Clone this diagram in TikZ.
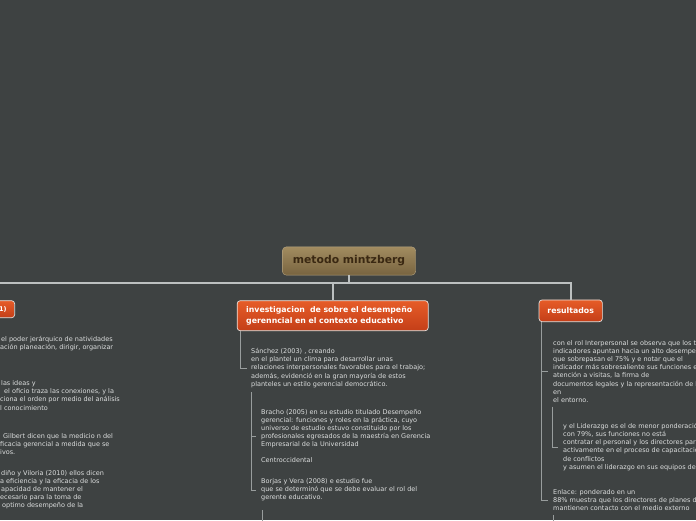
\documentclass[tikz,border=0pt]{standalone}
\usepackage{fontspec}
\setmainfont{DejaVu Sans}
\definecolor{bg}{HTML}{3E4242}
\definecolor{txt}{HTML}{DCDEDE}
\definecolor{branch}{HTML}{989D9D}
\definecolor{busc}{HTML}{BCC0C0}
\definecolor{orangeT}{RGB}{230,92,40}
\definecolor{orangeB}{RGB}{196,62,24}
\definecolor{rootT}{RGB}{162,140,96}
\definecolor{rootB}{RGB}{120,100,64}
\definecolor{rootTxt}{RGB}{58,40,18}
\definecolor{topicBorder}{RGB}{232,226,222}
\tikzset{
  body/.style={inner sep=0pt, anchor=west, align=left, text=txt, font=\fontsize{6.5}{8.1}\selectfont},
  topic/.style={rounded corners=3pt, draw=topicBorder, line width=0.7pt, top color=orangeT, bottom color=orangeB, text=white, font=\fontsize{7.8}{11}\selectfont\bfseries},
  rootbox/.style={rounded corners=4pt, draw=rootT!80!white, line width=0.4pt, top color=rootT, bottom color=rootB, text=rootTxt, font=\fontsize{10.8}{13}\selectfont\bfseries},
  branchline/.style={draw=branch, line width=0.9pt},
  busline/.style={draw=busc, line width=1.6pt},
}
\begin{document}
\begin{tikzpicture}[x=1pt,y=-1pt]
\fill[bg] (0,0) rectangle (696,520);
\useasboundingbox (0,0) rectangle (696,520);
\clip (0,0) rectangle (696,520);

% main topics
\node[rootbox, minimum width=133.4pt, minimum height=28.3pt, inner sep=0pt] (root) at (349,261) {metodo mintzberg};
\node[topic, text width=173pt, inner xsep=9pt, minimum height=30pt, align=left] (inv) at (332.7,315.7) {investigacion\ \ de sobre el desempeño\\gerenncial en el contexto educativo};
\node[topic, minimum width=63.3pt, minimum height=21.7pt, inner xsep=0pt] (res) at (570.7,310.8) {resultados};
\node[topic, inner xsep=8pt, minimum height=17pt, anchor=east, font=\fontsize{6.5}{8}\selectfont\bfseries] (lft) at (15,309.2) {1)};

% bus
\coordinate (bus) at (349,283);
\coordinate (busL) at (-5,283);
\draw[busline] (root.south) -- (bus);
\draw[busline] (busL) -- (bus) -| (res.north);
\draw[busline] (bus) -| (inv.north);

% middle texts
\node[body] (sanchez) at (251,368) {Sánchez (2003) , creando\\en el plantel un clima para desarrollar unas\\relaciones interpersonales favorables para el trabajo;\\además, evidenció en la gran mayoría de estos\\planteles un estilo gerencial democrático.};
\node[body] (bracho) at (261,436) {Bracho (2005) en su estudio titulado Desempeño\\gerencial: funciones y roles en la práctica, cuyo\\universo de estudio estuvo constituido por los\\profesionales egresados de la maestría en Gerencia\\Empresarial de la Universidad\\\mbox{}\\Centroccidental};
\node[body] (borjas) at (261,490) {Borjas y Vera (2008) e estudio fue\\que se determinó que se debe evaluar el rol del\\gerente educativo.};

% right texts
\node[body] (rol) at (553,371.5) {con el rol Interpersonal se observa que los t\\indicadores apuntan hacia un alto desempe\\que sobrepasan el 75\% y e notar que el\\indicador más sobresaliente sus funciones e\\atención a visitas, la firma de\\documentos legales y la representación de l\\en\\el entorno.};
\node[body] (lider) at (563,447) {y el Liderazgo es el de menor ponderació\\con 79\%, sus funciones no está\\contratar el personal y los directores par\\activamente en el proceso de capacitació\\de conflictos\\y asumen el liderazgo en sus equipos de};
\node[body] (enlace) at (553,500) {Enlace: ponderado en un\\88\% muestra que los directores de planes d\\mantienen contacto con el medio externo};

% left texts
\node[body] (la) at (0,344) {\hspace*{1pt}el poder jerárquico de natividades\\ación planeación, dirigir, organizar};
\node[body] (lb) at (0,395.5) {\hspace*{1pt}las ideas y\\\hspace*{4pt}el oficio traza las conexiones, y la\\ciona el orden por medio del análisis\\l conocimiento};
\node[body] (lc) at (0,444) {\hspace*{3pt}Gilbert dicen que la medicio n del\\ficacia gerencial a medida que se\\ivos.};
\node[body] (ld) at (0,489.5) {\hspace*{1pt}diño y Viloria (2010) ellos dicen\\a eficiencia y la eficacia de los\\\hspace*{1pt}apacidad de mantener el\\ecesario para la toma de\\\hspace*{2pt}optimo desempeño de la};

% branch lines
\draw[branchline] ([xshift=4pt]inv.south west) |- ([xshift=-4pt]sanchez.west);
\draw[branchline] ([yshift=-4.5pt]sanchez.south west) |- ([xshift=-5pt]bracho.west);
\draw[branchline] ([yshift=-4.5pt]sanchez.south west) |- ([xshift=-5pt]borjas.west);
\coordinate (bjend) at (262,525);
\draw[branchline] ([xshift=1pt,yshift=-9pt]borjas.south west) |- (bjend);
\draw[branchline] ([xshift=3pt]res.south west) |- ([xshift=-5pt]rol.west);
\draw[branchline] ([xshift=3pt]res.south west) |- ([xshift=-5pt]enlace.west);
\draw[branchline] ([xshift=-1pt,yshift=-4pt]rol.south west) |- ([xshift=-5pt]lider.west);
\coordinate (enend) at (553,525);
\draw[branchline] ([yshift=-4pt]enlace.south west) |- (enend);
\end{tikzpicture}
\end{document}
